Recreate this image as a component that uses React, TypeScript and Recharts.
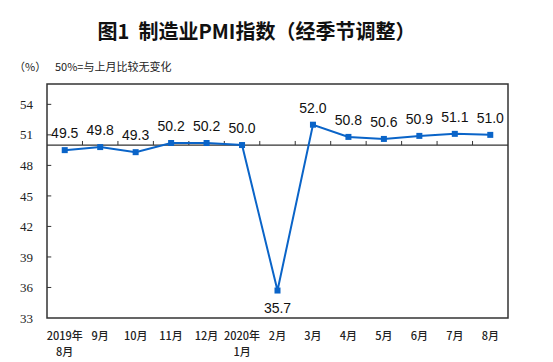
import React from 'react';
import { LineChart, Line, XAxis, YAxis, ReferenceLine, ReferenceArea, LabelList } from 'recharts';

const months = ['2019年\n8月', '9月', '10月', '11月', '12月', '2020年\n1月', '2月', '3月', '4月', '5月', '6月', '7月', '8月'];
const pmi = [49.5, 49.8, 49.3, 50.2, 50.2, 50.0, 35.7, 52.0, 50.8, 50.6, 50.9, 51.1, 51.0];
const yTicks = [33, 36, 39, 42, 45, 48, 51, 54];
const title = '图1  制造业PMI指数（经季节调整）';
const unitText = '（%）';
const noteText = '50%=与上月比较无变化';

const data = pmi.map((v, i) => ({ x: i + 0.5, v, label: months[i] }));
const xTicks = data.map(d => d.x);
const boundaries = months.slice(1).map((_, i) => i + 1);

const BLUE = '#0A64C8';

const XTick = (props: any) => {
  const { x, y, payload } = props;
  const idx = Math.round(payload.value - 0.5);
  const lines = (months[idx] || '').split('\n');
  return (
    <g>
      {lines.map((l, i) => (
        <text key={i} x={x} y={y + 14 + i * 16} textAnchor="middle" fontSize={11} fontWeight={500}
          fontFamily="'Noto Sans CJK SC', sans-serif" fill="#222">{l}</text>
      ))}
    </g>
  );
};

const Square = (props: any) => {
  const { cx, cy } = props;
  if (cx == null || cy == null) return null;
  return <rect x={cx - 3} y={cy - 3} width={6} height={6} fill={BLUE} />;
};

const ValueLabel = (props: any) => {
  const { x, y, value } = props;
  const below = value < 40;
  return (
    <text x={x} y={below ? y + 22 : y - 12} textAnchor="middle" fontSize={14} fontFamily="'Liberation Sans', Arial, sans-serif" fill="#111">
      {Number(value).toFixed(1)}
    </text>
  );
};

export default function App() {
  return (
    <div style={{ position: 'absolute', left: 0, top: 0, width: 553, height: 362, background: '#fff' }}>
      <div style={{ position: 'absolute', left: 0, top: 17, width: 513, textAlign: 'center', fontSize: 20, fontWeight: 'bold', fontFamily: "'Noto Sans CJK SC', sans-serif", color: '#111', lineHeight: '28px', whiteSpace: 'pre' }}>
        {title}
      </div>
      <div style={{ position: 'absolute', left: 14, top: 58, fontSize: 11, fontFamily: "'Noto Sans CJK SC', sans-serif", color: '#222', lineHeight: '16px' }}>
        {unitText}
      </div>
      <div style={{ position: 'absolute', left: 55, top: 58, fontSize: 11, fontFamily: "'Noto Sans CJK SC', sans-serif", color: '#222', lineHeight: '16px' }}>
        {noteText}
      </div>
      <LineChart width={553} height={362} data={data} margin={{ top: 84, right: 45, bottom: 14, left: 0 }}>
        <XAxis dataKey="x" type="number" domain={[0, 13]} ticks={xTicks} tick={<XTick />} axisLine={false} tickLine={false} height={30} interval={0} />
        <YAxis type="number" domain={[33, 56]} ticks={yTicks} width={47} axisLine={false} tickLine={false} tickSize={0} tickMargin={14}
          tick={{ fontSize: 13, fontFamily: "'Liberation Serif', 'Times New Roman', serif", fill: '#222' }} />
        <ReferenceArea x1={0} x2={13} y1={33} y2={56} fill="none" stroke="#333" strokeWidth={1.5} ifOverflow="visible" />
        <ReferenceLine y={50} stroke="#333" strokeWidth={1.2} />
        {boundaries.map(b => (
          <ReferenceLine key={'xb' + b} segment={[{ x: b, y: 50 }, { x: b, y: 50.4 }]} stroke="#333" strokeWidth={1} />
        ))}
        {yTicks.slice(1).map(t => (
          <ReferenceLine key={'yt' + t} segment={[{ x: 0, y: t }, { x: 0.12, y: t }]} stroke="#333" strokeWidth={1} />
        ))}
        <Line dataKey="v" stroke={BLUE} strokeWidth={2} dot={<Square />} activeDot={false} isAnimationActive={false}>
          <LabelList dataKey="v" content={<ValueLabel />} />
        </Line>
      </LineChart>
    </div>
  );
}
